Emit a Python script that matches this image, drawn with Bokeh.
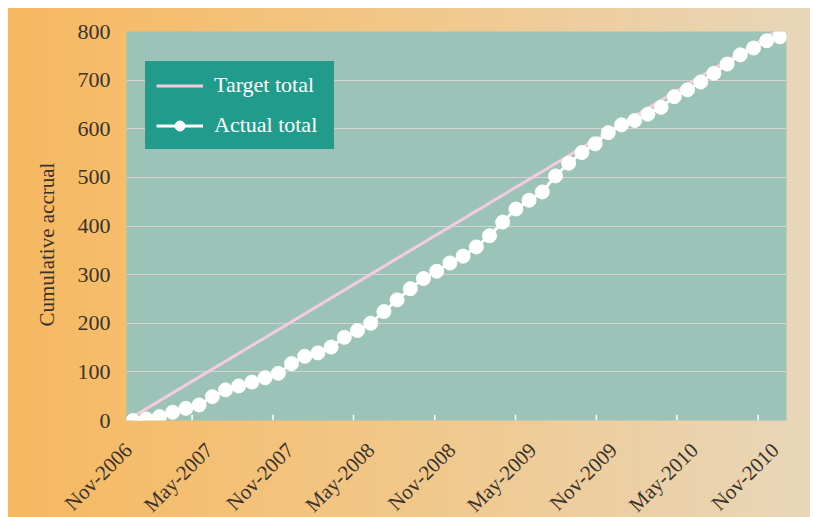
import math
from bokeh.plotting import figure
from bokeh.models import Range1d, FixedTicker, Title
from bokeh.embed import file_html
from bokeh.resources import INLINE

# ---- data -------------------------------------------------------------
# one point per reporting period (50 periods, Nov-2006 .. Nov/Dec-2010)
period = list(range(50))
actual_total = [0, 3, 8, 17, 25, 32, 49, 63, 71, 79,
                88, 97, 117, 132, 139, 151, 171, 185, 200, 224,
                248, 271, 292, 307, 324, 338, 357, 380, 408, 435,
                453, 470, 503, 529, 551, 569, 592, 608, 617, 630,
                644, 666, 680, 696, 714, 733, 752, 766, 781, 789]

target_period = [0, 49]
target_total = [8, 805]

x_label_pos = [-0.35, 5.775, 11.9, 18.025, 24.15, 30.275, 36.4, 42.525, 48.65]
x_labels = ["Nov-2006", "May-2007", "Nov-2007", "May-2008", "Nov-2008",
            "May-2009", "Nov-2009", "May-2010", "Nov-2010"]
x_tick_marks = [4.47, 10.6, 16.7, 22.85, 28.97, 35.1, 41.2, 47.35]
y_ticks = [0, 100, 200, 300, 400, 500, 600, 700, 800]
y_grid = [100, 200, 300, 400, 500, 600, 700]

FONT = "Liberation Serif"
TEXT = "#3a332c"

p = figure(frame_width=660, frame_height=389, output_backend="svg", toolbar_location=None,
           x_range=Range1d(-0.5, 49.5), y_range=Range1d(0, 800),
           min_border_left=118, min_border_right=24,
           min_border_top=23, min_border_bottom=0)

p.background_fill_color = "#9BC3B7"
p.border_fill_color = None
p.outline_line_color = None
# fixed placement: the lower part of the rotated labels' box may run past the window
p.styles = {"background": "linear-gradient(90deg, #F6B860 0%, #F2C685 45%, #E8D6B9 100%)",
            "position": "fixed", "left": "8px", "top": "8px"}

# grid
p.xgrid.visible = False
p.ygrid.ticker = FixedTicker(ticks=y_grid)
p.ygrid.grid_line_color = "#DAD2D4"
p.ygrid.grid_line_width = 1

# y axis
p.yaxis.ticker = FixedTicker(ticks=y_ticks)
p.yaxis.axis_line_color = None
p.yaxis.major_tick_line_color = None
p.yaxis.minor_tick_line_color = None
p.yaxis.major_label_text_font = FONT
p.yaxis.major_label_text_font_size = "22px"
p.yaxis.major_label_text_color = TEXT
p.yaxis.major_label_standoff = 10

# y axis title (placed in the left panel so it can be nudged down)
p.add_layout(Title(text="Cumulative accrual", align="left", offset=94,
                   text_font=FONT, text_font_size="21px", text_font_style="normal",
                   text_color=TEXT, standoff=31), "left")

# x axis
p.xaxis.ticker = FixedTicker(ticks=x_label_pos)
p.xaxis.major_label_overrides = {pos: lab for pos, lab in zip(x_label_pos, x_labels)}
p.xaxis.major_label_orientation = math.pi / 4
p.xaxis.axis_line_color = None
p.xaxis.major_tick_line_color = None
p.xaxis.minor_tick_line_color = None
p.xaxis.major_label_text_font = FONT
p.xaxis.major_label_text_font_size = "21px"
p.xaxis.major_label_text_color = TEXT
p.xaxis.major_label_standoff = 20

# white tick marks on the bottom edge
p.segment(x0=x_tick_marks, y0=[0] * len(x_tick_marks),
          x1=x_tick_marks, y1=[12] * len(x_tick_marks),
          line_color="white", line_width=1.5)

# series
p.line(target_period, target_total, line_color="#F4CCDE", line_width=3,
       legend_label="Target total")
p.line(period, actual_total, line_color="white", line_width=3,
       legend_label="Actual total")
p.scatter(period, actual_total, size=14, fill_color="white", line_color="white",
          legend_label="Actual total")

lg = p.legend[0]
lg.location = (19, 271)
lg.background_fill_color = "#219B8C"
lg.background_fill_alpha = 1
lg.border_line_color = "#219B8C"
lg.border_line_width = 1
lg.label_text_color = "white"
lg.label_text_font = FONT
lg.label_text_font_size = "22px"
lg.glyph_width = 47
lg.glyph_height = 25
lg.label_height = 25
lg.label_width = 109
lg.label_standoff = 11
lg.padding = 10
lg.spacing = 14
lg.margin = 0

open("out.html", "w").write(file_html(p, INLINE))
